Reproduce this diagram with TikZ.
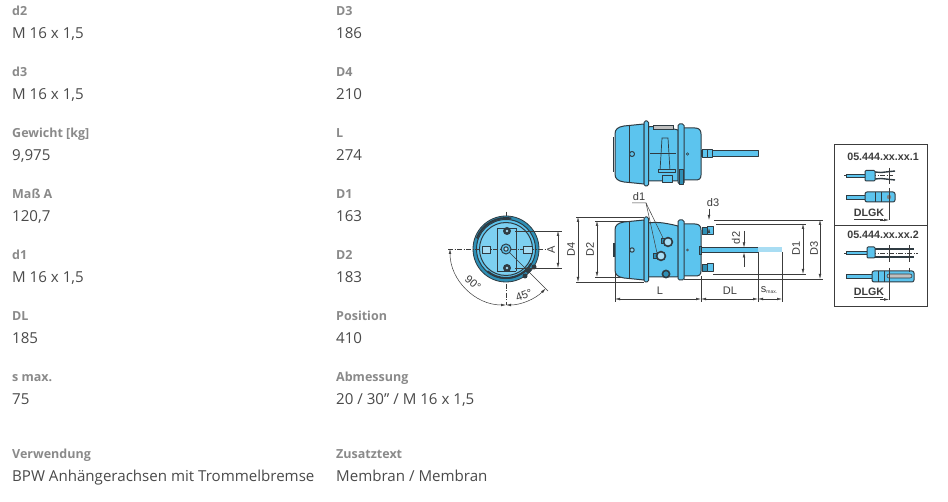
\documentclass[tikz,border=0pt]{standalone}
\usepackage{fontspec}
\setmainfont{Open Sans}
\newfontfamily\dimfont{Liberation Sans}
\usetikzlibrary{arrows.meta}
\definecolor{lbl}{HTML}{8A8A8A}
\definecolor{val}{HTML}{4A4A4A}
\definecolor{blu}{HTML}{5CC4EE}
\definecolor{lblu}{HTML}{A9DDF3}
\definecolor{teal}{HTML}{2E8FB5}
\definecolor{ink}{HTML}{2F3B42}
\definecolor{dim}{HTML}{3C3C3C}
\tikzset{
 keytext/.style={anchor=base west,inner sep=0pt,font=\fontsize{12.5}{14}\selectfont\bfseries,text=lbl},
 valtext/.style={anchor=base west,inner sep=0pt,font=\fontsize{15.1}{17}\selectfont,text=val},
 dimtext/.style={inner sep=0pt,font=\fontsize{11}{12}\selectfont\dimfont,text=dim},
 tabtext/.style={inner sep=0pt,font=\fontsize{10.7}{11}\selectfont\dimfont\bfseries,text=dim},
 dimline/.style={draw=dim,line width=0.5pt,{Latex[length=5pt,width=2.6pt]}-{Latex[length=5pt,width=2.6pt]}},
 pointer/.style={draw=dim,line width=0.5pt,-{Latex[length=5pt,width=2.6pt]}},
 extline/.style={draw=dim,line width=0.5pt},
 part/.style={draw=ink,fill=blu,line width=1pt,line join=round},
 thinpart/.style={draw=ink,line width=0.7pt},
 centre/.style={draw=dim,line width=0.4pt,dash pattern=on 5pt off 1.5pt on 1pt off 1.5pt},
}
\newcommand{\chamber}{%
 \draw[part] (615,-20) .. controls (615,-25) and (618,-27) .. (624,-28) -- (644,-30) -- (644,30) -- (624,28) .. controls (618,27) and (615,25) .. (615,20) -- cycle;
 \draw[thinpart] (629,-28.5) -- (629,28.5);
 \draw[part] (647,-27) .. controls (656,-28) and (662,-28) .. (678,-24) -- (678,27) -- (647,27) -- cycle;
 \draw[part] (683,-26) -- (695,-26) .. controls (699,-26) and (701,-24) .. (701,-20) -- (701,21) .. controls (701,25) and (699,26) .. (695,26) -- (683,26) -- cycle;
 \draw[part,rounded corners=1.5pt] (644,-33) rectangle (648.5,32);
 \draw[part,rounded corners=1.5pt] (678,-30) rectangle (684,30);
}
\begin{document}
\begin{tikzpicture}[x=1pt,y=-1pt]
\useasboundingbox (0,0) rectangle (948,502);
\fill[white] (0,0) rectangle (948,502);

\node[keytext] (k1) at (12,16) {d2};
\node[valtext] (v1) at (12,39) {M 16 x 1,5};
\node[keytext] (k2) at (12,77) {d3};
\node[valtext] (v2) at (12,100) {M 16 x 1,5};
\node[keytext] (k3) at (12,138) {Gewicht [kg]};
\node[valtext] (v3) at (12,161) {9,975};
\node[keytext] (k4) at (12,199) {Maß A};
\node[valtext] (v4) at (12,222) {120,7};
\node[keytext] (k5) at (12,260) {d1};
\node[valtext] (v5) at (12,283) {M 16 x 1,5};
\node[keytext] (k6) at (12,321) {DL};
\node[valtext] (v6) at (12,344) {185};
\node[keytext] (k7) at (12,382) {s max.};
\node[valtext] (v7) at (12,405) {75};
\node[keytext] (k8) at (12,459) {Verwendung};
\node[valtext] (v8) at (12,482) {BPW Anhängerachsen mit Trommelbremse};
\node[keytext] (r1) at (336,16) {D3};
\node[valtext] (s1) at (336,39) {186};
\node[keytext] (r2) at (336,77) {D4};
\node[valtext] (s2) at (336,100) {210};
\node[keytext] (r3) at (336,138) {L};
\node[valtext] (s3) at (336,161) {274};
\node[keytext] (r4) at (336,199) {D1};
\node[valtext] (s4) at (336,222) {163};
\node[keytext] (r5) at (336,260) {D2};
\node[valtext] (s5) at (336,283) {183};
\node[keytext] (r6) at (336,321) {Position};
\node[valtext] (s6) at (336,344) {410};
\node[keytext] (r7) at (336,382) {Abmessung};
\node[valtext] (s7) at (336,405) {20 / 30" / M 16 x 1,5};
\node[keytext] (r8) at (336,459) {Zusatztext};
\node[valtext] (s8) at (336,482) {Membran / Membran};

% ---- top view
\begin{scope}[yshift=-154pt]
 \draw[part] (701,-3) rectangle (758,3);
 \draw[part] (702,-4) rectangle (707,4);
 \draw[part] (707,-4) rectangle (712,4);
 \chamber
 \draw[ink,line width=1.2pt] (613.5,-17) -- (613.5,18);
 \draw[part] (632,0) circle (2.5);
 \draw[ink,fill=blu,line width=0.6pt] (687.5,0) circle (1.2);
 \draw[thinpart] (662,-16) -- (668,-16) -- (670,17) -- (660,17) -- cycle;
 \draw[ink,line width=1pt] (650,0) -- (676,0);
 \draw[thinpart,fill=lightgray] (653,-29) rectangle (673,-25);
 \draw[part] (658,16) rectangle (675,19);
 \draw[part] (662,22) rectangle (672,29);
 \draw[part,fill=teal] (679,16) rectangle (683,31);
\end{scope}

% ---- main side view
\begin{scope}[yshift=-250pt]
 \draw[part] (701,-2.5) rectangle (758,2.5);
 \fill[lblu] (758,-2.5) rectangle (782,2.5);
 \draw[part,fill=teal] (702,-22) rectangle (707,-15);
 \draw[part] (707,-23) rectangle (713,-15);
 \draw[part,fill=teal] (702,22) rectangle (707,15);
 \draw[part] (707,22) rectangle (713,14);
 \chamber
 \draw[ink,line width=1.2pt] (614,-7) -- (614,7);
 \draw[part,fill=white!30!blu] (632,0) circle (2.2);
 \draw[ink,fill=white,line width=0.6pt] (687.5,0) circle (1);
 \draw[ink,line width=0.8pt,fill=teal] (701,-4) rectangle (699,4);
 \draw[part,fill=teal] (661,-11) rectangle (665,-6);
 \draw[part,fill=teal] (653,4) rectangle (657,9);
 \draw[ink,line width=1.6pt,fill=lblu] (668,-8) circle (4.4);
 \draw[ink,line width=1.6pt,fill=lblu] (661,6) circle (4.4);
 \draw[ink,line width=1.6pt,fill=teal] (666,24) circle (3.6);
\end{scope}

% d1 leader
\node[dimtext] (d1a) at (639,197) {d1};
\coordinate (d1s) at (632,203);
\coordinate (d1k) at (646,203);
\coordinate (d1u) at (663,238);
\coordinate (d1v) at (657,253);
\draw[extline] (d1s) -- (d1k) -- (d1u);
\draw[extline] (d1k) -- (d1v);

% dimensions of side view
\coordinate (d4t) at (578,217); \coordinate (d4b) at (578,282);
\draw[dimline] (d4t) -- (d4b);
\node[dimtext,rotate=90] (d4l) at (571,249) {D4};
\coordinate (d2t) at (597,221); \coordinate (d2b) at (597,277);
\draw[dimline] (d2t) -- (d2b);
\node[dimtext,rotate=90] (d2l) at (590,249) {D2};
\draw[extline] (576,217) -- (644,217) (595,221) -- (630,221) (576,282) -- (644,282) (595,277) -- (622,277);
\draw[extline] (714,220) -- (823,220) (716,224) -- (806,224) (684,279) -- (823,279) (713,274) -- (806,274);
\coordinate (d1t) at (803,224); \coordinate (d1b) at (803,274);
\draw[dimline] (d1t) -- (d1b);
\node[dimtext,rotate=90] (d1l) at (796,248) {D1};
\coordinate (d3t) at (820,220); \coordinate (d3b) at (820,279);
\draw[dimline] (d3t) -- (d3b);
\node[dimtext,rotate=90] (d3l) at (814,248) {D3};

\draw[extline] (615,272) -- (615,302) (701,276) -- (701,302) (758,252) -- (758,302) (782,252) -- (782,302);
\coordinate (la) at (615,299); \coordinate (lb) at (701,299); \coordinate (lc) at (758,299); \coordinate (ld) at (782,299);
\draw[dimline] (la) -- (lb);
\draw[dimline] (lb) -- (lc);
\draw[dimline] (lc) -- (ld);
\node[dimtext] (ll) at (660,291) {L};
\node[dimtext] (dll) at (730,291) {DL};
\node[dimtext] (sl) at (769,290) {s\raisebox{-1.5pt}{\fontsize{5}{6}\selectfont max.}};

% d3 arrows
\node[dimtext] (d3a) at (713,203) {d3};
\coordinate (d3p) at (709,209); \coordinate (d3q) at (709,232);
\draw[pointer] (d3p) -- (709,220);
\draw[pointer] (d3q) -- (709,228);
% d2 arrows
\node[dimtext,rotate=90] (d2a) at (736,238) {d2};
\coordinate (d2p) at (744,231); \coordinate (d2q) at (744,267);
\draw[pointer] (d2p) -- (744,247.5);
\draw[pointer] (d2q) -- (744,252.5);

% ---- end view
\coordinate (ec) at (506,249);
\draw[centre] (448,249) -- (546,249);
\draw[centre] (506,212) -- (506,305);
\draw[ink,fill=teal,line width=0.8pt] (ec) circle (33);
\draw[ink,fill=blu,line width=1pt] (ec) circle (29.5);
\draw[ink,fill=blu!80!white,line width=1pt] (ec) circle (26.5);
\draw[ink,line width=2pt] (ec) ++(200:31) arc[start angle=200,end angle=280,radius=31];
\draw[ink,line width=2pt] (ec) ++(30:29) arc[start angle=30,end angle=130,radius=29];
\draw[ink,line width=0.6pt] (497,228) -- (497,271) (516,228) -- (516,271) (497,228) -- (516,228) (497,271) -- (516,271);
\draw[centre] (448,249) -- (546,249);
\draw[thinpart,fill=lblu] (482,246) rectangle (490,253);
\draw[thinpart,fill=lblu] (523,246) rectangle (532,253);
\draw[extline] (ec) -- (548,291);
\fill[ink] (507,231) circle (4); \fill[lblu] (507,231) circle (1.4);
\fill[ink] (507,268) circle (4); \fill[lblu] (507,268) circle (1.4);
\draw[ink,fill=blu,line width=1pt] (ec) circle (5);
\draw[ink,fill=lblu,line width=1pt] (ec) circle (2.2);
\fill[ink] (528,270) circle (3); \fill[ink] (534,267) circle (2.5); \fill[ink] (525,276) circle (2.5);
\draw[extline] (515,231) -- (562,231) (515,268) -- (562,268);
\coordinate (aa) at (558,231); \coordinate (ab) at (558,268);
\draw[dimline] (aa) -- (ab);
\node[dimtext,rotate=90] (al) at (551,250) {A};
\draw[dimline] (450,249) arc[start angle=180,end angle=90,radius=56];
\draw[dimline] (506,305) arc[start angle=90,end angle=45,radius=56];
\node[dimtext,rotate=-40] (n90) at (473,283) {90°};
\node[dimtext,rotate=20] (n45) at (524,295) {45°};

% ---- variant table
\node[draw=dim,line width=0.8pt,minimum width=93pt,minimum height=81pt,inner sep=0pt] (b1) at (880.5,184.5) {};
\node[draw=dim,line width=0.8pt,minimum width=93pt,minimum height=81pt,inner sep=0pt] (b2) at (880.5,265.5) {};
\node[tabtext] (t1) at (883,157) {05.444.xx.xx.1};
\node[tabtext] (t2) at (883,235) {05.444.xx.xx.2};
% fork 1
\draw[centre] (844,175.5) -- (893,175.5);
\draw[thinpart,fill=blu] (846,174) rectangle (865,177);
\draw[ink,line width=1.4pt] (875,172) -- (881,172.5) -- (895,171) (875,179) -- (881,178.5) -- (895,180);
\draw[part,rounded corners=1pt] (865,170.5) rectangle (875,181);
\draw[extline] (889,168) -- (889,184);
% pin 1
\draw[thinpart,fill=blu] (846,195) rectangle (865,199);
\draw[part,rounded corners=2pt] (865,192) rectangle (895,202);
\draw[thinpart] (875,192) -- (875,202) (881,192) -- (881,202);
\fill[gray] (889,197) circle (2.2);
\draw[extline] (889,188) -- (889,220);
\node[tabtext] (k1l) at (869,213) {DLGK};
\draw[extline] (854,219) -- (883,219);
\draw[pointer] (880,220) -- (889,220);
% fork 2
\draw[centre] (844,253) -- (918,253);
\draw[thinpart,fill=blu] (846,251.5) rectangle (867,254.5);
\draw[ink,line width=1.4pt] (875,249) -- (882,249) -- (914,249) (875,257) -- (882,257) -- (914,257);
\draw[part,rounded corners=1pt] (867,247) rectangle (875,258);
\draw[extline] (889,245) -- (889,262) (909,245) -- (909,262);
% pin 2
\draw[thinpart,fill=blu] (846,274) rectangle (872,278);
\draw[part,rounded corners=2pt] (872,271) rectangle (914,282);
\draw[thinpart] (878,271) -- (878,282) (884,271) -- (884,282);
\draw[fill=lightgray,draw=ink,rounded corners=2pt,line width=0.6pt] (887,274) rectangle (912,278);
\draw[extline] (889,268) -- (889,300) (909,268) -- (909,272);
\node[tabtext] (k2l) at (869,292) {DLGK};
\draw[extline] (854,297.5) -- (883,297.5);
\draw[pointer] (880,299.5) -- (889,299.5);
\end{tikzpicture}
\end{document}
